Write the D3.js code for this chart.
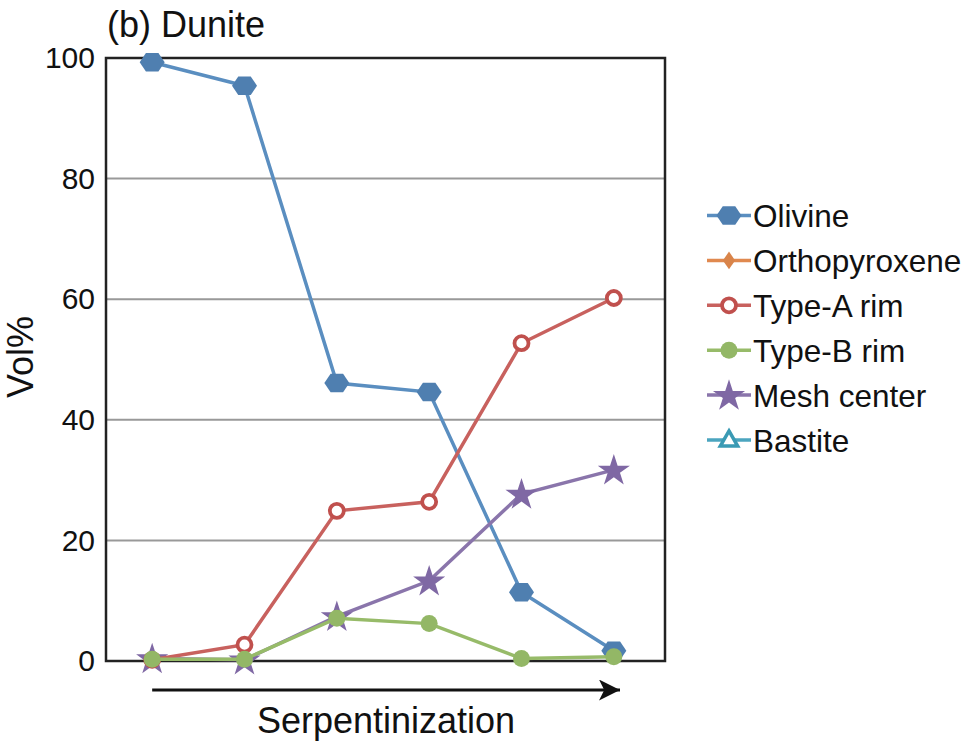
<!DOCTYPE html>
<html lang="en">
<head>
    <meta charset="UTF-8">
    <title>(b) Dunite</title>
    <script src="https://d3js.org/d3.v7.min.js"></script>
    <style>
        body {
            margin: 0;
            background: #fff;
            font-family: 'Liberation Sans', Arial, sans-serif;
        }
    </style>
</head>
<body>
    <svg id="chart" width="969" height="742"></svg>
    <script>
        // stages along serpentinization (6 samples)
        const stages = ["s1", "s2", "s3", "s4", "s5", "s6"];
        const yTicks = [0, 20, 40, 60, 80, 100];

        const olivine = [99.3, 95.4, 46.1, 44.6, 11.4, 1.7];
        const orthopyroxene = [null, null, null, null, null, null];
        const typeA = [0.2, 2.7, 24.9, 26.4, 52.7, 60.2];
        const typeB = [0.3, 0.3, 7.1, 6.2, 0.4, 0.7];
        const meshCenter = [0.4, 0.2, 7.4, 13.3, 27.7, 31.7];
        const bastite = [null, null, null, null, null, null];

        const seriesNames = ["Olivine", "Orthopyroxene", "Type-A rim", "Type-B rim", "Mesh center", "Bastite"];

        const series = [
            { name: "Olivine", values: olivine, color: "#5a8ec0", mark: "#4f7fb0", shape: "hex" },
            { name: "Orthopyroxene", values: orthopyroxene, color: "#e0894f", mark: "#d9844a", shape: "diamond" },
            { name: "Mesh center", values: meshCenter, color: "#8a75ab", mark: "#7f68a4", shape: "star" },
            { name: "Type-A rim", values: typeA, color: "#c8615e", mark: "#c0504d", shape: "ring" },
            { name: "Bastite", values: bastite, color: "#4ba5bf", mark: "#3a9ab4", shape: "triangle" },
            { name: "Type-B rim", values: typeB, color: "#97bb69", mark: "#93b766", shape: "dot" }
        ];

        const svg = d3.select("#chart");
        const pLeft = 106, pRight = 665, pTop = 58, pBottom = 661;

        const x = d3.scalePoint().domain(stages).range([pLeft, pRight - 5]).padding(0.5);
        const y = d3.scaleLinear().domain([0, 100]).range([pBottom, pTop]);

        // gridlines
        svg.append("g")
            .selectAll("line")
            .data(yTicks.filter(d => d > 0 && d < 100))
            .enter()
            .append("line")
            .attr("x1", pLeft).attr("x2", pRight)
            .attr("y1", d => y(d)).attr("y2", d => y(d))
            .attr("stroke", "#999").attr("stroke-width", 2);

        // y axis labels
        const yAxis = d3.axisLeft(y).tickValues(yTicks).tickSize(0).tickPadding(11);
        const ay = svg.append("g").attr("transform", `translate(${pLeft},0)`).call(yAxis);
        ay.select(".domain").remove();
        ay.selectAll("text")
            .attr("font-family", "'Liberation Sans', Arial, sans-serif")
            .attr("font-size", 30).attr("fill", "#111");

        // frame
        svg.append("rect")
            .attr("x", pLeft).attr("y", pTop)
            .attr("width", pRight - pLeft).attr("height", pBottom - pTop)
            .attr("fill", "none").attr("stroke", "#222").attr("stroke-width", 2.5);

        function drawMarker(g, shape, cx, cy, s) {
            if (shape === "hex") {
                const r = 12.5;
                const pts = d3.range(6).map(i => {
                    const a = Math.PI / 3 * i;
                    return [cx + r * Math.cos(a), cy + r * 0.85 * Math.sin(a)];
                });
                g.append("polygon").attr("points", pts.join(" ")).attr("fill", s.mark);
            } else if (shape === "ring") {
                g.append("circle").attr("cx", cx).attr("cy", cy).attr("r", 7)
                    .attr("fill", "#fff").attr("stroke", s.mark).attr("stroke-width", 3.8);
            } else if (shape === "dot") {
                g.append("circle").attr("cx", cx).attr("cy", cy).attr("r", 8.5).attr("fill", s.mark);
            } else if (shape === "star") {
                g.append("path")
                    .attr("d", d3.symbol(d3.symbolStar, 320)())
                    .attr("transform", `translate(${cx},${cy + 1})`)
                    .attr("fill", s.mark);
            } else if (shape === "diamond") {
                g.append("path")
                    .attr("d", d3.symbol(d3.symbolDiamond, 90)())
                    .attr("transform", `translate(${cx},${cy}) scale(1.2,1)`)
                    .attr("fill", s.mark);
            } else if (shape === "triangle") {
                g.append("path")
                    .attr("d", d3.symbol(d3.symbolTriangle, 130)())
                    .attr("transform", `translate(${cx},${cy + 1})`)
                    .attr("fill", "#fff").attr("stroke", s.mark).attr("stroke-width", 3.5);
            }
        }

        const line = d3.line()
            .defined(d => d.v !== null)
            .x(d => x(d.s))
            .y(d => y(d.v));

        series.forEach(s => {
            const pts = stages.map((st, i) => ({ s: st, v: s.values[i] }));
            const g = svg.append("g");
            g.append("path")
                .attr("d", line(pts))
                .attr("fill", "none")
                .attr("stroke", s.color)
                .attr("stroke-width", 3.5);
            pts.filter(p => p.v !== null).forEach(p => drawMarker(g, s.shape, x(p.s), y(p.v), s));
        });

        // legend
        const legendOrder = seriesNames.map(n => series.find(s => s.name === n));
        const lg = svg.append("g");
        legendOrder.forEach((s, i) => {
            const ly = 215.5 + i * 44.9;
            lg.append("line")
                .attr("x1", 707).attr("x2", 751)
                .attr("y1", ly).attr("y2", ly)
                .attr("stroke", s.color).attr("stroke-width", 3.5);
            drawMarker(lg, s.shape, 729, ly, s);
            lg.append("text")
                .attr("x", 753).attr("y", ly + 11.5)
                .attr("font-size", 31.5).attr("fill", "#111")
                .text(s.name);
        });

        // titles
        svg.append("text")
            .attr("x", 107).attr("y", 37)
            .attr("font-size", 36).attr("fill", "#111")
            .text("(b) Dunite");

        svg.append("text")
            .attr("transform", "translate(33,357) rotate(-90)")
            .attr("text-anchor", "middle")
            .attr("font-size", 36).attr("fill", "#111")
            .text("Vol%");

        // serpentinization arrow
        svg.append("defs").append("marker")
            .attr("id", "arrow")
            .attr("viewBox", "0 0 10 10")
            .attr("refX", 10).attr("refY", 5)
            .attr("markerUnits", "userSpaceOnUse")
            .attr("markerWidth", 26).attr("markerHeight", 21)
            .attr("orient", "auto")
            .append("path").attr("d", "M0,0 L10,5 L0,10 L2.5,5 Z").attr("fill", "#111");

        svg.append("line")
            .attr("x1", x(stages[0])).attr("x2", 620)
            .attr("y1", 690).attr("y2", 690)
            .attr("stroke", "#111").attr("stroke-width", 3)
            .attr("marker-end", "url(#arrow)");

        svg.append("text")
            .attr("x", 386).attr("y", 733)
            .attr("text-anchor", "middle")
            .attr("font-size", 36).attr("fill", "#111")
            .text("Serpentinization");
    </script>
</body>
</html>
